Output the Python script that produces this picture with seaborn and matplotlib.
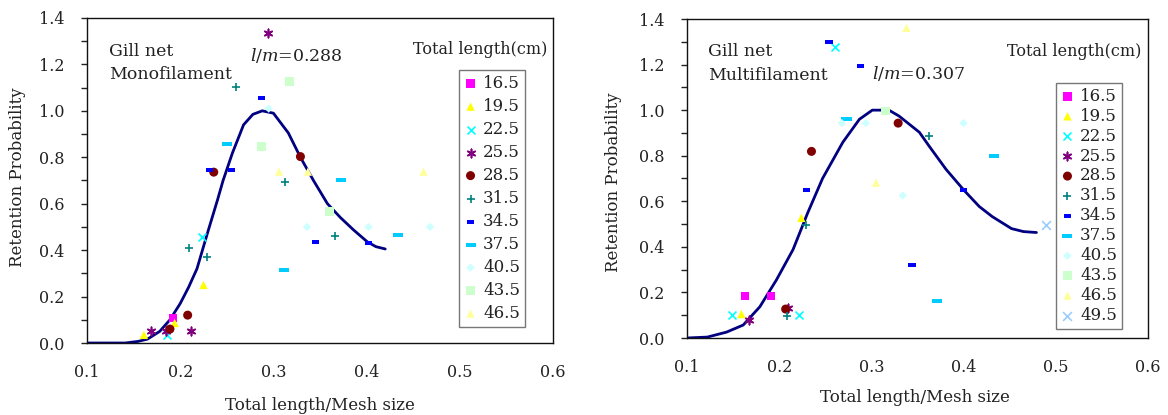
import numpy as np
import pandas as pd
import matplotlib
matplotlib.use("Agg")
import matplotlib.pyplot as plt
import seaborn as sns
from matplotlib.ticker import MultipleLocator, FixedLocator

# ---------------- data ----------------
lengths_left = ["16.5", "19.5", "22.5", "25.5", "28.5", "31.5", "34.5", "37.5",
                "40.5", "43.5", "46.5"]
lengths_right = lengths_left + ["49.5"]

# Monofilament (left) observed points: (x, y) per length class
mono_x = {
    "16.5": [0.192],
    "19.5": [0.161, 0.194, 0.225],
    "22.5": [0.186, 0.223],
    "25.5": [0.169, 0.185, 0.212, 0.294],
    "28.5": [0.189, 0.208, 0.236, 0.329],
    "31.5": [0.209, 0.229, 0.260, 0.312, 0.366],
    "34.5": [0.231, 0.255, 0.287, 0.345, 0.402],
    "37.5": [0.250, 0.311, 0.373, 0.434],
    "40.5": [0.295, 0.336, 0.402, 0.468],
    "43.5": [0.287, 0.317, 0.360],
    "46.5": [0.306, 0.337, 0.461],
}
mono_y = {
    "16.5": [0.108],
    "19.5": [0.035, 0.086, 0.250],
    "22.5": [0.034, 0.457],
    "25.5": [0.052, 0.050, 0.052, 1.336],
    "28.5": [0.060, 0.120, 0.736, 0.803],
    "31.5": [0.410, 0.370, 1.103, 0.693, 0.461],
    "34.5": [0.747, 0.747, 1.056, 0.435, 0.431],
    "37.5": [0.858, 0.314, 0.701, 0.465],
    "40.5": [1.010, 0.500, 0.500, 0.500],
    "43.5": [0.845, 1.125, 0.565],
    "46.5": [0.738, 0.738, 0.738],
}

# Multifilament (right) observed points
multi_x = {
    "16.5": [0.163, 0.191],
    "19.5": [0.159, 0.224],
    "22.5": [0.149, 0.222, 0.260],
    "25.5": [0.167, 0.210],
    "28.5": [0.207, 0.235, 0.329],
    "31.5": [0.208, 0.229, 0.363],
    "34.5": [0.230, 0.254, 0.288, 0.344, 0.400],
    "37.5": [0.273, 0.371, 0.433],
    "40.5": [0.268, 0.294, 0.334, 0.400],
    "43.5": [0.315],
    "46.5": [0.305, 0.338],
    "49.5": [0.489],
}
multi_y = {
    "16.5": [0.185, 0.185],
    "19.5": [0.105, 0.527],
    "22.5": [0.100, 0.100, 1.277],
    "25.5": [0.079, 0.130],
    "28.5": [0.127, 0.819, 0.943],
    "31.5": [0.097, 0.494, 0.885],
    "34.5": [0.648, 1.300, 1.194, 0.320, 0.648],
    "37.5": [0.960, 0.162, 0.800],
    "40.5": [0.943, 0.943, 0.625, 0.943],
    "43.5": [0.996],
    "46.5": [0.682, 1.361],
    "49.5": [0.494],
}

# Fitted retention curves
mono_curve_x = [0.100, 0.120, 0.141, 0.155, 0.165, 0.178, 0.189, 0.200, 0.209,
                0.218, 0.229, 0.240, 0.246, 0.256, 0.268, 0.278, 0.288, 0.300,
                0.316, 0.329, 0.343, 0.358, 0.372, 0.386, 0.401, 0.410, 0.420]
mono_curve_y = [0.000, 0.000, 0.000, 0.007, 0.017, 0.050, 0.100, 0.170, 0.240,
                0.320, 0.470, 0.616, 0.700, 0.818, 0.940, 0.985, 1.000, 0.990,
                0.905, 0.800, 0.700, 0.600, 0.540, 0.487, 0.435, 0.415, 0.405]

multi_curve_x = [0.100, 0.122, 0.143, 0.161, 0.179, 0.197, 0.215, 0.231, 0.247,
                 0.269, 0.287, 0.301, 0.319, 0.330, 0.352, 0.363, 0.381, 0.4005,
                 0.417, 0.431, 0.452, 0.465, 0.479]
multi_curve_y = [0.000, 0.004, 0.026, 0.057, 0.137, 0.255, 0.388, 0.550, 0.700,
                 0.859, 0.960, 1.000, 1.000, 0.974, 0.903, 0.840, 0.740, 0.648,
                 0.577, 0.533, 0.480, 0.467, 0.463]

# ---------------- styles ----------------
rect_small = [(-0.5, -0.28), (0.5, -0.28), (0.5, 0.28), (-0.5, 0.28)]
rect_wide = [(-0.5, -0.2), (0.5, -0.2), (0.5, 0.2), (-0.5, 0.2)]
styles = {
    "16.5": dict(color="#FF00FF", marker="s", s=36, filled=True),
    "19.5": dict(color="#FFFF00", marker="^", s=36, filled=True),
    "22.5": dict(color="#00FFFF", marker="x", s=33, filled=False),
    "25.5": dict(color="#800080", marker=(6, 2, 0), s=36, filled=False),
    "28.5": dict(color="#800000", marker="o", s=42, filled=True),
    "31.5": dict(color="#008080", marker="+", s=40, filled=False),
    "34.5": dict(color="#0000FF", marker=rect_small, s=26, filled=True),
    "37.5": dict(color="#00CCFF", marker=rect_wide, s=52, filled=True),
    "40.5": dict(color="#CCFFFF", marker="D", s=18, filled=True),
    "43.5": dict(color="#CCFFCC", marker="s", s=40, filled=True),
    "46.5": dict(color="#FFFF99", marker="^", s=36, filled=True),
    "49.5": dict(color="#99CCFF", marker="x", s=40, filled=False),
}

sns.set_style("white")
plt.rcParams["font.family"] = ["DejaVu Serif"]
plt.rcParams["mathtext.fontset"] = "dejavuserif"

fig = plt.figure(figsize=(11.68, 4.15), dpi=100)
axL = fig.add_axes([87 / 1168, 1 - 343 / 415, 466 / 1168, 325 / 415])
axR = fig.add_axes([687 / 1168, 1 - 338 / 415, 461 / 1168, 319 / 415])


def draw_panel(ax, levels, xs, ys, cx, cy, leg_anchor, lspace):
    sns.lineplot(x=cx, y=cy, ax=ax, color="#000080", lw=2, sort=False,
                 estimator=None, legend=False)
    for lv in levels:
        st = styles[lv]
        df = pd.DataFrame({"x": xs[lv], "y": ys[lv]})
        kw = dict(color=st["color"], marker=st["marker"], s=st["s"], label=lv)
        if st["filled"]:
            kw["edgecolor"] = "none"
            kw["linewidth"] = 0
        else:
            kw["linewidth"] = 1.2
        sns.scatterplot(data=df, x="x", y="y", ax=ax, zorder=3, **kw)
    ax.set_xlim(0.1, 0.6)
    ax.set_ylim(0.0, 1.4)
    ax.xaxis.set_major_locator(FixedLocator([0.1, 0.2, 0.3, 0.4, 0.5, 0.6]))
    ax.yaxis.set_major_locator(MultipleLocator(0.2))
    ax.yaxis.set_minor_locator(MultipleLocator(0.1))
    ax.xaxis.set_major_formatter(matplotlib.ticker.FormatStrFormatter("%.1f"))
    ax.yaxis.set_major_formatter(matplotlib.ticker.FormatStrFormatter("%.1f"))
    ax.tick_params(axis="x", which="major", direction="in", length=4, width=1,
                   pad=15, labelsize=11.5, colors="#222222", labelcolor="#222222")
    ax.tick_params(axis="y", which="both", direction="out", length=4, width=1,
                   pad=12, labelsize=11.5, left=True, colors="#222222")
    ax.tick_params(axis="y", which="major", labelcolor="#222222")
    for sp in ax.spines.values():
        sp.set_visible(True)
        sp.set_color("#111111")
        sp.set_linewidth(1.0)
    ax.set_xlabel("Total length/Mesh size", fontsize=12, color="#222222")
    ax.set_ylabel("Retention Probability", fontsize=12, color="#222222")
    leg = ax.legend(loc="upper left", bbox_to_anchor=leg_anchor, frameon=True,
                    fancybox=False, edgecolor="#777777", framealpha=1,
                    fontsize=12, labelspacing=lspace, handlelength=0.8,
                    handletextpad=0.35, borderpad=0.3, borderaxespad=0,
                    markerscale=1.0)
    leg.get_frame().set_linewidth(1.0)
    for t in leg.get_texts():
        t.set_color("#222222")


draw_panel(axL, lengths_left, mono_x, mono_y, mono_curve_x, mono_curve_y,
           (0.798, 0.84), 0.36)
draw_panel(axR, lengths_right, multi_x, multi_y, multi_curve_x, multi_curve_y,
           (0.80, 0.80), 0.175)

# label positions
axL.xaxis.set_label_coords(0.5, -0.165)
axL.yaxis.set_label_coords(-0.13, 0.51)
axR.xaxis.set_label_coords(0.495, -0.16)
axR.yaxis.set_label_coords(-0.142, 0.49)

# annotations
txtc = "#222222"
axL.text(0.124, 1.254, "Gill net", fontsize=12.5, va="center", ha="left", color=txtc)
axL.text(0.124, 1.155, "Monofilament", fontsize=12.5, va="center", ha="left", color=txtc)
axL.text(0.325, 1.24, r"$\mathit{l/m}$=0.288", fontsize=12.5, va="center",
         ha="center", color=txtc)
axL.text(0.522, 1.263, "Total length(cm)", fontsize=11.5, va="center",
         ha="center", color=txtc)

axR.text(0.123, 1.256, "Gill net", fontsize=12.5, va="center", ha="left", color=txtc)
axR.text(0.123, 1.15, "Multifilament", fontsize=12.5, va="center", ha="left", color=txtc)
axR.text(0.351, 1.159, r"$\mathit{l/m}$=0.307", fontsize=12.5, va="center",
         ha="center", color=txtc)
axR.text(0.52, 1.256, "Total length(cm)", fontsize=11.5, va="center",
         ha="center", color=txtc)

fig.savefig("out.png", dpi=100, facecolor="white")
